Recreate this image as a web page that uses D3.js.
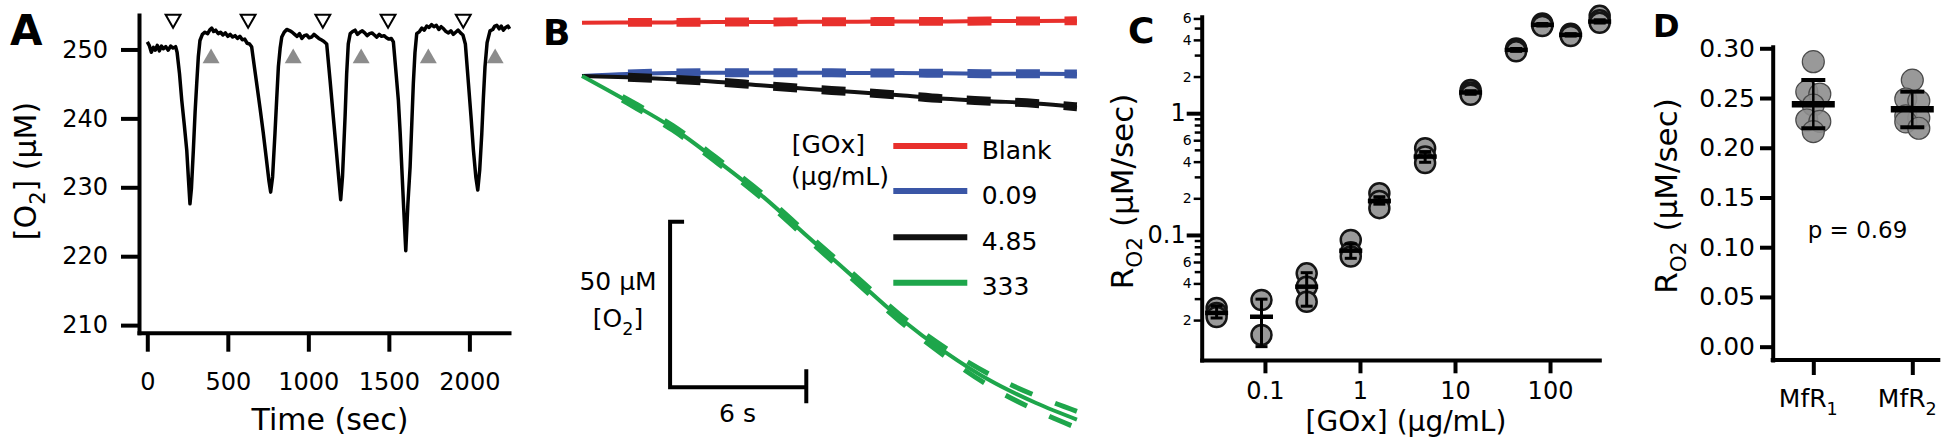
<!DOCTYPE html>
<html>
<head>
<meta charset="utf-8">
<script src="https://cdn.jsdelivr.net/npm/d3@7"></script>
<style>
  body { margin: 0; background: #fff; }
  svg { display: block; font-family: "DejaVu Sans", sans-serif; }
</style>
</head>
<body>
<svg id="fig" width="1950" height="444"></svg>
<script>
// ---------- panel A : O2 trace during additions ----------
const traceTime = [0,12,25,38,50,62,75,88,100,115,130,145,160,176,185,200,214,230,245,256,265,274,286,297,307,317,327,342,358,375,390,400,412,425,440,455,470,485,500,515,530,545,560,575,590,605,620,635,648,663,679,700,720,740,755,766,778,793,804,814,825,835,850,866,886,900,915,930,945,960,975,990,1005,1020,1035,1050,1065,1080,1095,1114,1135,1155,1175,1190,1201,1212,1228,1238,1248,1260,1275,1290,1305,1320,1335,1350,1365,1380,1395,1410,1425,1440,1455,1470,1485,1500,1515,1528,1545,1559,1570,1580,1592,1605,1618,1632,1642,1652,1662,1673,1690,1705,1720,1735,1750,1765,1780,1795,1810,1825,1840,1855,1870,1885,1900,1915,1930,1945,1960,1975,1994,2010,2025,2040,2052,2064,2077,2087,2097,2110,2128,2145,2158,2170,2185,2198,2211,2225,2240,2250];
const traceO2 = [251.1,250.6,249.6,250.3,249.9,250.6,249.8,250.5,250.1,250.4,249.9,250.5,250.2,250.4,249.6,246.5,242.6,239.0,235.4,231.0,227.6,229.8,235.4,241.0,245.1,249.0,251.3,252.2,252.5,252.3,252.9,253.1,252.6,252.8,252.3,252.5,252.1,252.4,251.9,252.2,251.8,252.0,251.6,251.9,251.4,251.5,250.9,250.8,250.4,247.8,245.1,241.5,237.9,234.0,231.0,229.3,231.5,237.9,243.0,247.5,250.2,251.8,252.5,252.9,252.7,252.5,252.2,251.9,252.3,251.6,252.0,252.1,251.7,251.8,252.2,251.9,251.6,251.4,251.2,250.8,245.5,240.2,235.0,231.0,228.2,231.5,240.2,246.5,250.8,252.3,252.6,252.8,252.2,252.5,252.7,252.4,252.0,252.3,252.4,252.1,251.8,252.2,251.9,252.0,251.7,251.5,251.6,251.1,246.5,242.6,238.0,233.0,227.0,220.8,227.5,233.0,239.0,245.1,249.5,252.3,252.6,253.1,252.8,253.4,253.2,253.6,253.3,253.5,252.9,253.3,253.0,252.6,252.4,252.7,252.2,252.5,252.8,252.4,252.1,250.8,245.1,240.3,235.4,231.5,229.6,232.5,237.8,243.0,247.5,251.0,252.7,252.9,253.4,253.5,253.0,253.4,252.8,253.2,253.4,253.0];
const addTimes = [160, 626, 1090, 1495, 1962];    // open markers
const washTimes = [396, 906, 1328, 1745, 2160];   // grey markers
const addLevel = 254.4, washLevel = 248.7;
const aYTicks = [210, 220, 230, 240, 250];
const aXTicks = [0, 500, 1000, 1500, 2000];

// ---------- panel B : O2 change traces (mean, sd) ----------
const bSeries = ["Blank", "0.09", "4.85", "333"];
const bColors = ["#e8302c", "#3a56a6", "#111111", "#1ea64b"];
const bTime = [0, 2, 4, 6, 8, 10, 12, 14, 16, 18, 20, 21.8];
const bBlank = [16.1, 16.2, 16.2, 16.3, 16.3, 16.4, 16.4, 16.5, 16.5, 16.6, 16.6, 16.7];
const bLow = [0, 0.6, 0.9, 1.0, 1.0, 1.0, 0.9, 0.9, 0.8, 0.7, 0.7, 0.6];
const bMid = [0, -0.4, -1.0, -1.8, -2.9, -3.9, -4.8, -5.8, -6.9, -7.6, -8.3, -9.3];
const bHigh = [0, -7.6, -15.7, -25.8, -36.6, -48.9, -61.0, -73.1, -83.4, -92.1, -98.8, -103.8];
const bSdSmall = [0.5, 0.6, 0.6, 0.6, 0.6, 0.6, 0.6, 0.6, 0.6, 0.6, 0.6, 0.6];
const bSdHigh = [0.5, 0.6, 0.7, 0.7, 0.8, 0.8, 0.9, 1.0, 1.3, 1.8, 2.2, 2.5];
const scaleBarO2 = 50, scaleBarTime = 6;
const scaleBarOrigin = [3.88, -94.05];

// ---------- panel C : rate vs GOx ----------
const cConc = [0.031, 0.092, 0.275, 0.80, 1.6, 4.85, 14.6, 44, 83, 165, 333];
const cPoints = [
  [0.0251, 0.0229, 0.0212], [0.0292, 0.0151], [0.0484, 0.0376, 0.0283],
  [0.091, 0.072, 0.0664], [0.220, 0.190, 0.166], [0.516, 0.44, 0.389],
  [1.554, 1.48, 1.414], [3.40, 3.31, 3.22], [5.45, 5.32, 5.20],
  [4.50, 4.40, 4.30], [6.30, 5.80, 5.52]
];
const cMean = [0.0229, 0.0213, 0.0376, 0.0743, 0.19, 0.44, 1.48, 3.31, 5.32, 4.40, 5.66];
const cLo = [0.0208, 0.0121, 0.026, 0.0643, 0.179, 0.395, 1.43, 3.22, 5.20, 4.30, 5.50];
const cHi = [0.0262, 0.0297, 0.049, 0.0843, 0.206, 0.484, 1.53, 3.40, 5.45, 4.50, 5.85];
const cXTicks = [0.1, 1, 10, 100];

// ---------- panel D : two reactors ----------
const dGroups = ["1", "2"];
const dMfR1 = [0.2865, 0.2564, 0.2540, 0.2430, 0.2279, 0.2265, 0.2162];
const dMfR2 = [0.268, 0.249, 0.247, 0.232, 0.230, 0.226, 0.2196];
const dMean = [0.2437, 0.2387];
const dLo = [0.2196, 0.2206];
const dHi = [0.2681, 0.2564];
const dYTicks = [0, 0.05, 0.10, 0.15, 0.20, 0.25, 0.30];
const pText = "p = 0.69";

const svg = d3.select("#fig");

function styleAxis(g, size) {
  g.attr("font-family", null);
  g.selectAll(".domain").attr("stroke-width", 4).attr("stroke-linecap", "square");
  g.selectAll(".tick line").attr("stroke-width", 4);
  g.selectAll("text").attr("font-size", size).attr("fill", "#000");
}

// text with subscripts: parts are strings, or [string] for subscript
function label(parent, x, y, parts, size, opts = {}) {
  const t = parent.append("text").attr("x", x).attr("y", y)
    .attr("font-size", size).attr("text-anchor", opts.anchor || "middle")
    .attr("font-weight", opts.bold ? "bold" : null);
  if (opts.rotate) t.attr("transform", `rotate(-90,${x},${y})`);
  let down = false;
  parts.forEach(p => {
    const isSub = Array.isArray(p);
    const s = t.append("tspan").text(isSub ? p[0] : p);
    if (isSub) { s.attr("font-size", size * 0.7).attr("dy", size * 0.3); down = true; }
    else if (down) { s.attr("dy", -size * 0.3); down = false; }
  });
  return t;
}

// ================= A =================
const gA = svg.append("g");
const xA = d3.scaleLinear().domain([-51.5, 2246]).range([139, 509]);
const yA = d3.scaleLinear().domain([208.9, 255]).range([332.7, 15]);

gA.append("g").attr("transform", "translate(0,332.7)")
  .call(d3.axisBottom(xA).tickValues(aXTicks).tickSize(19).tickSizeOuter(0).tickPadding(21).tickFormat(d3.format("d")))
  .call(g => styleAxis(g, 24));
gA.append("g").attr("transform", "translate(139,0)")
  .call(d3.axisLeft(yA).tickValues(aYTicks).tickSize(18).tickSizeOuter(0).tickPadding(13))
  .call(g => styleAxis(g, 24));

gA.append("path")
  .datum(traceTime.map((t, i) => [t, traceO2[i]]))
  .attr("fill", "none").attr("stroke", "#000").attr("stroke-width", 3.5)
  .attr("stroke-linejoin", "round")
  .attr("d", d3.line().x(d => xA(d[0])).y(d => yA(d[1])));

gA.selectAll(".add").data(addTimes).join("path")
  .attr("transform", d => `translate(${xA(d)},${yA(addLevel)}) rotate(180)`)
  .attr("d", d3.symbol(d3.symbolTriangle, 95))
  .attr("fill", "#fff").attr("stroke", "#000").attr("stroke-width", 2);
gA.selectAll(".wash").data(washTimes).join("path")
  .attr("transform", d => `translate(${xA(d)},${yA(washLevel)})`)
  .attr("d", d3.symbol(d3.symbolTriangle, 125))
  .attr("fill", "#8c8c8c");

label(gA, 330, 430, ["Time (sec)"], 30);
label(gA, 36, 171, ["[O", ["2"], "] (μM)"], 30, { rotate: true });
label(gA, 10, 45, ["A"], 42, { anchor: "start", bold: true });

// ================= B =================
const gB = svg.append("g");
const xB = d3.scaleLinear().domain([0, 21.8]).range([582, 1076.9]);
const yB = d3.scaleLinear().domain([0, -100]).range([76, 407]);

const bMeans = [bBlank, bLow, bMid, bHigh];
const bSds = [bSdSmall, bSdSmall, bSdSmall, bSdHigh];
const lineB = d3.line().x(d => xB(d[0])).y(d => yB(d[1])).curve(d3.curveMonotoneX);
const dashes = "0 46 " + "24 24.5 ".repeat(40);

bMeans.forEach((m, k) => {
  const col = bColors[k];
  gB.append("path").datum(bTime.map((t, i) => [t, m[i]]))
    .attr("fill", "none").attr("stroke", col).attr("stroke-width", 4)
    .attr("d", lineB);
  [-1, 1].forEach(sgn => {
    gB.append("path").datum(bTime.map((t, i) => [t, m[i] + sgn * bSds[k][i]]))
      .attr("fill", "none").attr("stroke", col).attr("stroke-width", 5)
      .attr("stroke-dasharray", dashes)
      .attr("d", lineB);
  });
});

// legend
const legY = [146, 191, 237.3, 282.7];
bSeries.forEach((s, k) => {
  gB.append("line").attr("x1", 893.3).attr("x2", 967.3)
    .attr("y1", legY[k]).attr("y2", legY[k])
    .attr("stroke", bColors[k]).attr("stroke-width", 6);
  label(gB, 981.7, legY[k] + 12.5, [s], 25, { anchor: "start" });
});
label(gB, 791.7, 153, ["[GOx]"], 25, { anchor: "start" });
label(gB, 791, 185, ["(μg/mL)"], 25, { anchor: "start" });

// scale bar
const sbX0 = xB(scaleBarOrigin[0]), sbY0 = yB(scaleBarOrigin[1]);
const sbX1 = xB(scaleBarOrigin[0] + scaleBarTime), sbY1 = yB(scaleBarOrigin[1] + scaleBarO2);
gB.append("path")
  .attr("d", `M${sbX0 + 14},${sbY1}H${sbX0}V${sbY0}H${sbX1}M${sbX1},${sbY0 - 18}V${sbY0 + 16}`)
  .attr("fill", "none").attr("stroke", "#000").attr("stroke-width", 4);
label(gB, 618, 290, [scaleBarO2 + " μM"], 25);
label(gB, 618, 327, ["[O", ["2"], "]"], 25);
label(gB, 737.5, 421.5, [scaleBarTime + " s"], 25);
label(gB, 543, 45, ["B"], 36, { anchor: "start", bold: true });

// ================= C =================
const gC = svg.append("g");
const xC = d3.scaleLog().domain([0.0216, 330]).range([1201.7, 1599.3]);
const yC = d3.scaleLog().domain([0.0094, 6.2]).range([360, 16.7]);
const lead = d => Math.round(d / Math.pow(10, Math.floor(Math.log10(d) + 1e-9)));
const decades = [0.01, 0.1, 1];
const labMinor = decades.flatMap(b => [2, 4, 6].map(m => +(b * m).toPrecision(3)));
const plainMinor = decades.flatMap(b => [3, 5, 7, 8, 9].map(m => +(b * m).toPrecision(3))).filter(v => v < 6.2);

gC.append("g").attr("transform", "translate(1201.7,0)")
  .call(d3.axisLeft(yC).tickValues(plainMinor).tickSize(7).tickFormat(""))
  .call(g => { styleAxis(g, 14); g.select(".domain").remove(); g.selectAll(".tick line").attr("stroke-width", 2.5); });
gC.append("g").attr("transform", "translate(1201.7,0)")
  .call(d3.axisLeft(yC).tickValues(labMinor).tickSize(8).tickPadding(2).tickFormat(lead))
  .call(g => { styleAxis(g, 14); g.select(".domain").remove(); g.selectAll(".tick line").attr("stroke-width", 2.5); });
gC.append("g").attr("transform", "translate(1201.7,0)")
  .call(d3.axisLeft(yC).tickValues([0.1, 1]).tickSize(15).tickSizeOuter(0).tickPadding(1).tickFormat(d3.format("~g")))
  .call(g => styleAxis(g, 24));
gC.append("g").attr("transform", "translate(0,360)")
  .call(d3.axisBottom(xC).tickValues(cXTicks).tickSize(13.3).tickSizeOuter(0).tickPadding(8.7).tickFormat(d3.format("~g")))
  .call(g => styleAxis(g, 24));

const cFlat = cConc.flatMap((c, i) => cPoints[i].map(v => ({ c, v })));
gC.selectAll(".pt").data(cFlat).join("circle")
  .attr("cx", d => xC(d.c)).attr("cy", d => yC(d.v)).attr("r", 10)
  .attr("fill", "#9a9a9a").attr("stroke", "#151515").attr("stroke-width", 2.5);
cConc.forEach((c, i) => {
  const x = xC(c);
  gC.append("line").attr("x1", x).attr("x2", x).attr("y1", yC(cLo[i])).attr("y2", yC(cHi[i]))
    .attr("stroke", "#000").attr("stroke-width", 3);
  [cLo[i], cHi[i]].forEach(v => gC.append("line").attr("x1", x - 6).attr("x2", x + 6)
    .attr("y1", yC(v)).attr("y2", yC(v)).attr("stroke", "#000").attr("stroke-width", 3));
  gC.append("line").attr("x1", x - 11.5).attr("x2", x + 11.5)
    .attr("y1", yC(cMean[i])).attr("y2", yC(cMean[i])).attr("stroke", "#000").attr("stroke-width", 4.5);
});

label(gC, 1406, 431, ["[GOx] (μg/mL)"], 28);
label(gC, 1133, 191.5, ["R", ["O2"], " (μM/sec)"], 31, { rotate: true });
label(gC, 1128, 43, ["C"], 36, { anchor: "start", bold: true });

// ================= D =================
const gD = svg.append("g");
const xD = d3.scalePoint().domain(dGroups).range([1813.3, 1912.3]);
const yD = d3.scaleLinear().domain([-0.0134, 0.3016]).range([360, 46.7]);

gD.append("g").attr("transform", "translate(1772.7,0)")
  .call(d3.axisLeft(yD).tickValues(dYTicks).tickSize(12.7).tickSizeOuter(0).tickPadding(5).tickFormat(d3.format(".2f")))
  .call(g => styleAxis(g, 25));
gD.append("g").attr("transform", "translate(0,360)")
  .call(d3.axisBottom(xD).tickSize(15).tickFormat(""))
  .call(g => { styleAxis(g, 25); g.select(".domain").remove(); });
gD.append("line").attr("x1", 1772.7).attr("x2", 1938.3).attr("y1", 360).attr("y2", 360)
  .attr("stroke", "#000").attr("stroke-width", 4).attr("stroke-linecap", "square");

function dodge(vals, r) {
  const ys = vals.map(yD);
  const order = d3.range(vals.length).sort((a, b) => ys[a] - ys[b]);
  const off = vals.map(() => 0);
  for (let k = 0; k < order.length - 1; k++) {
    const i = order[k], j = order[k + 1];
    if (Math.abs(ys[j] - ys[i]) < r) { off[i] = -6.5; off[j] = 6.5; k++; }
  }
  return off;
}

[dMfR1, dMfR2].forEach((vals, g) => {
  const x = xD(dGroups[g]);
  const off = dodge(vals, 11);
  gD.selectAll(".d" + g).data(vals).join("circle")
    .attr("cx", (d, i) => x + off[i]).attr("cy", d => yD(d)).attr("r", 11)
    .attr("fill", "#8e8e8e").attr("fill-opacity", 0.9)
    .attr("stroke", "#4a4a4a").attr("stroke-width", 1.2);
  gD.append("line").attr("x1", x).attr("x2", x).attr("y1", yD(dLo[g])).attr("y2", yD(dHi[g]))
    .attr("stroke", "#000").attr("stroke-width", 2.5);
  [dLo[g], dHi[g]].forEach(v => gD.append("line").attr("x1", x - 12).attr("x2", x + 12)
    .attr("y1", yD(v)).attr("y2", yD(v)).attr("stroke", "#000").attr("stroke-width", 4));
  gD.append("line").attr("x1", x - 21.5).attr("x2", x + 21.5)
    .attr("y1", yD(dMean[g])).attr("y2", yD(dMean[g])).attr("stroke", "#000").attr("stroke-width", 6.5);
  label(gD, x - 5, 407, ["MfR", [dGroups[g]]], 25);
});

label(gD, 1857.5, 238, [pText], 23);
label(gD, 1677, 196, ["R", ["O2"], " (μM/sec)"], 31, { rotate: true });
label(gD, 1653, 37, ["D"], 32, { anchor: "start", bold: true });
</script>
</body>
</html>
